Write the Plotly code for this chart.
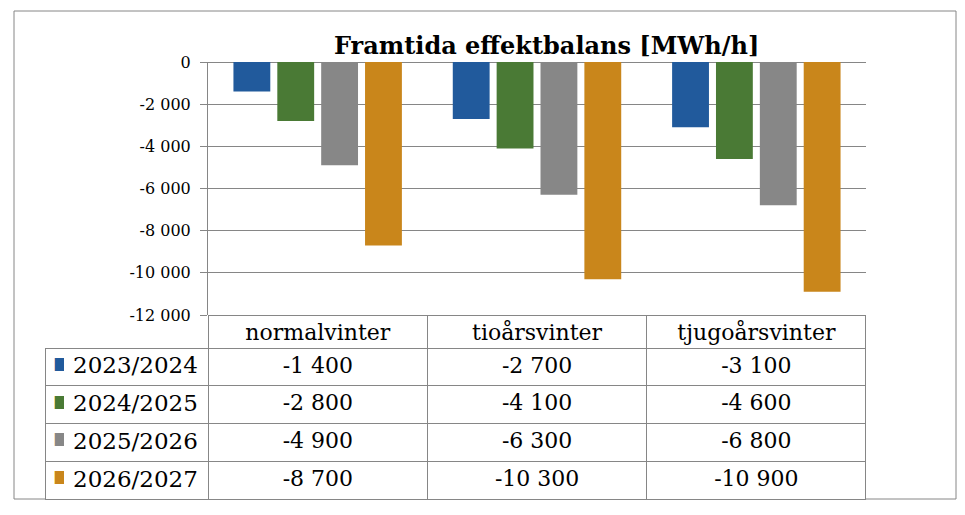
import plotly.graph_objects as go

W, H = 965, 515

categories = ["normalvinter", "tioårsvinter", "tjugoårsvinter"]
seasons = ["2023/2024", "2024/2025", "2025/2026", "2026/2027"]
values_2023 = [-1400, -2700, -3100]
values_2024 = [-2800, -4100, -4600]
values_2025 = [-4900, -6300, -6800]
values_2026 = [-8700, -10300, -10900]
colors = ["#215A9C", "#4A7A35", "#878787", "#C9861B"]
y_ticks = [0, -2000, -4000, -6000, -8000, -10000, -12000]
y_tick_labels = ["0", "-2 000", "-4 000", "-6 000", "-8 000", "-10 000", "-12 000"]

series = [values_2023, values_2024, values_2025, values_2026]
FONT = "DejaVu Serif"
GRID = "#868686"
CLEAR = "rgba(0,0,0,0)"
OFF = 8  # sidans marginal i webbläsaren


def px(x):
    return (x - OFF) / W


def py(y):
    return 1 - (y - OFF) / H


def fmt(v):
    return f"{v:,}".replace(",", " ")


fig = go.Figure()

for name, vals, color in zip(seasons, series, colors):
    fig.add_trace(go.Bar(
        x=categories,
        y=vals,
        name=name,
        marker=dict(color=color, line=dict(width=0)),
        showlegend=False,
        hoverinfo="skip",
    ))

# datatabell under diagrammet
table_cols = [[""] * len(seasons)] + [[fmt(vals[i]) for vals in series] for i in range(len(categories))]
table_y = [py(501), py(315)]

fig.add_trace(go.Table(
    domain=dict(x=[px(45), px(866)], y=table_y),
    columnwidth=[163, 219, 219, 219],
    header=dict(
        values=[""] + categories,
        height=33,
        fill_color=[CLEAR, "white", "white", "white"],
        line=dict(color=[CLEAR, GRID, GRID, GRID], width=1),
        align="center",
        font=dict(family=FONT, size=22, color="black"),
    ),
    cells=dict(
        values=table_cols,
        height=37.75,
        fill_color="white",
        line=dict(color=GRID, width=1),
        align="center",
        font=dict(family=FONT, size=22, color="black"),
    ),
))

# färgrutor (förklaring) i första kolumnen
fig.add_trace(go.Table(
    domain=dict(x=[px(45), px(65)], y=table_y),
    header=dict(values=[""], height=33, fill_color=CLEAR, line=dict(color=CLEAR, width=0)),
    cells=dict(
        values=[["■"] * len(seasons)],
        height=37.75,
        fill_color=CLEAR,
        line=dict(color=CLEAR, width=0),
        align="left",
        font=dict(family="DejaVu Sans", size=17, color=[colors]),
    ),
))

# serienamn bredvid rutorna
fig.add_trace(go.Table(
    domain=dict(x=[px(65), px(207)], y=table_y),
    header=dict(values=[""], height=33, fill_color=CLEAR, line=dict(color=CLEAR, width=0)),
    cells=dict(
        values=[seasons],
        height=37.75,
        fill_color=CLEAR,
        line=dict(color=CLEAR, width=0),
        align="left",
        font=dict(family=FONT, size=23, color="black"),
    ),
))

fig.update_layout(
    width=W,
    height=H,
    margin=dict(l=0, r=0, t=0, b=0),
    paper_bgcolor="white",
    plot_bgcolor="white",
    barmode="group",
    bargap=0.2,
    bargroupgap=0.16,
    font=dict(family=FONT, color="black"),
    xaxis=dict(
        domain=[px(208), px(866)],
        automargin=False,
        showticklabels=False,
        ticks="",
        showgrid=False,
        showline=False,
        zeroline=False,
    ),
    yaxis=dict(
        domain=[py(315), py(62)],
        automargin=False,
        range=[-12000, 0],
        tickvals=y_ticks,
        ticktext=y_tick_labels,
        ticks="outside",
        ticklen=7,
        tickcolor=GRID,
        ticklabelstandoff=6,
        tickfont=dict(family=FONT, size=16, color="black"),
        showgrid=True,
        gridcolor=GRID,
        gridwidth=1,
        zeroline=True,
        zerolinecolor=GRID,
        zerolinewidth=1,
        showline=True,
        linecolor=GRID,
        linewidth=1,
    ),
    shapes=[dict(
        type="rect", xref="paper", yref="paper",
        x0=px(14), x1=px(956), y0=py(499), y1=py(11),
        line=dict(color=GRID, width=1), fillcolor=CLEAR, layer="below",
    )],
    annotations=[dict(
        text="<b>Framtida effektbalans [MWh/h]</b>",
        xref="paper", yref="paper",
        x=px(546), y=py(45),
        xanchor="center", yanchor="middle",
        showarrow=False,
        font=dict(family=FONT, size=24, color="black"),
    )],
)

fig.write_html("out.html")
